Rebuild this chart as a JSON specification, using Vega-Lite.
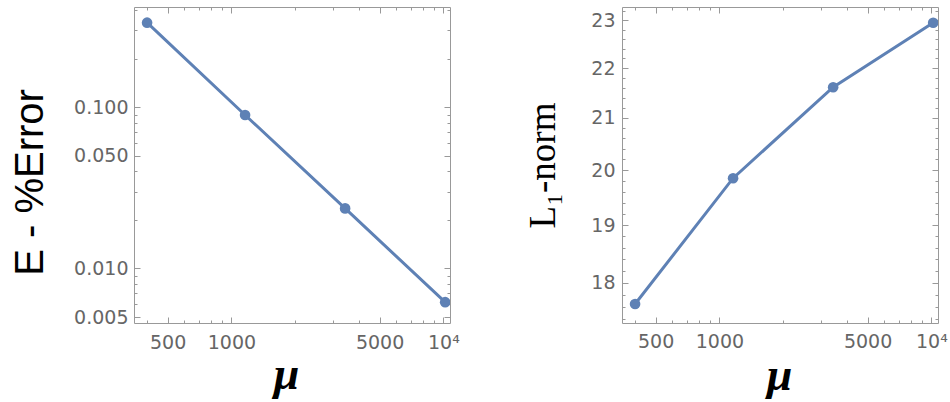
{
  "$schema": "https://vega.github.io/schema/vega-lite/v6.json",
  "background": "white",
  "padding": {"left": 9, "top": 0, "right": 0, "bottom": 0},
  "data": {"values": [
    {"mu": 400, "err": 0.335, "l1": 17.65},
    {"mu": 1160, "err": 0.0896, "l1": 19.85},
    {"mu": 3440, "err": 0.0236, "l1": 21.61},
    {"mu": 10200, "err": 0.00618, "l1": 22.95}
  ]},
  "spacing": 172,
  "bounds": "flush",
  "hconcat": [
    {
      "width": 316,
      "height": 316,
      "layer": [
        {
          "mark": {"type": "line", "color": "#5e81b5", "strokeWidth": 3, "clip": true},
          "encoding": {
            "x": {"field": "mu", "type": "quantitative",
              "scale": {"type": "log", "domain": [347, 10750], "nice": false, "zero": false},
              "axis": {"orient": "bottom",
                "values": [400,500,600,700,800,900,1000,2000,3000,4000,5000,6000,7000,8000,9000,10000],
                "labelExpr": "datum.value == 10000 ? '10⁴' : (indexof([500,1000,5000], datum.value) >= 0 ? format(datum.value, 'd') : '')",
                "tickSize": {"condition": {"test": "indexof([500,1000,5000,10000], datum.value) >= 0", "value": -6}, "value": -3},
                "labelPadding": 16,
                "title": "μ", "titleFont": "Liberation Serif", "titleFontSize": 46, "titleFontStyle": "italic", "titleFontWeight": "bold", "titleColor": "black",
                "titleBaseline": "alphabetic", "titleX": 152, "titleY": 65}},
            "y": {"field": "err", "type": "quantitative",
              "scale": {"type": "log", "domain": [0.00459, 0.419], "nice": false, "zero": false},
              "axis": {"orient": "left",
                "values": [0.005,0.006,0.007,0.008,0.009,0.01,0.02,0.03,0.04,0.05,0.06,0.07,0.08,0.09,0.1,0.2,0.3,0.4],
                "labelExpr": "indexof([0.005,0.01,0.05,0.1], datum.value) >= 0 ? format(datum.value, '.3f') : ''",
                "tickSize": {"condition": {"test": "indexof([0.005,0.01,0.05,0.1], datum.value) >= 0", "value": -6}, "value": -3},
                "labelPadding": 12,
                "title": "E - %Error", "titleFont": "Liberation Sans", "titleFontSize": 40, "titleFontWeight": "normal", "titleColor": "black",
                "titleBaseline": "alphabetic", "titleAngle": 270, "titleX": -92, "titleY": 175}}
          }
        },
        {
          "mark": {"type": "circle", "color": "#5e81b5", "size": 113, "opacity": 1, "clip": true},
          "encoding": {
            "x": {"field": "mu", "type": "quantitative",
              "scale": {"type": "log", "domain": [347, 10750], "nice": false, "zero": false},
              "axis": {"orient": "top", "labels": false, "title": null,
                "values": [400,500,600,700,800,900,1000,2000,3000,4000,5000,6000,7000,8000,9000,10000],
                "tickSize": {"condition": {"test": "indexof([500,1000,5000,10000], datum.value) >= 0", "value": -6}, "value": -3}}},
            "y": {"field": "err", "type": "quantitative",
              "scale": {"type": "log", "domain": [0.00459, 0.419], "nice": false, "zero": false},
              "axis": {"orient": "right", "labels": false, "title": null,
                "values": [0.005,0.006,0.007,0.008,0.009,0.01,0.02,0.03,0.04,0.05,0.06,0.07,0.08,0.09,0.1,0.2,0.3,0.4],
                "tickSize": {"condition": {"test": "indexof([0.005,0.01,0.05,0.1], datum.value) >= 0", "value": -6}, "value": -3}}}
          }
        }
      ],
      "resolve": {"axis": {"x": "independent", "y": "independent"}}
    },
    {
      "width": 316,
      "height": 316,
      "layer": [
        {
          "mark": {"type": "line", "color": "#5e81b5", "strokeWidth": 3, "clip": true},
          "encoding": {
            "x": {"field": "mu", "type": "quantitative",
              "scale": {"type": "log", "domain": [347, 10750], "nice": false, "zero": false},
              "axis": {"orient": "bottom",
                "values": [400,500,600,700,800,900,1000,2000,3000,4000,5000,6000,7000,8000,9000,10000],
                "labelExpr": "datum.value == 10000 ? '10⁴' : (indexof([500,1000,5000], datum.value) >= 0 ? format(datum.value, 'd') : '')",
                "tickSize": {"condition": {"test": "indexof([500,1000,5000,10000], datum.value) >= 0", "value": -6}, "value": -3},
                "labelPadding": 15,
                "title": "μ", "titleFont": "Liberation Serif", "titleFontSize": 46, "titleFontStyle": "italic", "titleFontWeight": "bold", "titleColor": "black",
                "titleBaseline": "alphabetic", "titleX": 157, "titleY": 66}},
            "y": {"field": "l1", "type": "quantitative",
              "scale": {"type": "log", "domain": [17.34, 23.29], "nice": false, "zero": false},
              "axis": {"orient": "left",
                "values": [17.4,17.6,17.8,18,18.2,18.4,18.6,18.8,19,19.2,19.4,19.6,19.8,20,20.2,20.4,20.6,20.8,21,21.2,21.4,21.6,21.8,22,22.2,22.4,22.6,22.8,23,23.2],
                "labelExpr": "datum.value % 1 == 0 ? format(datum.value, 'd') : ''",
                "tickSize": {"condition": {"test": "datum.value % 1 == 0", "value": -6}, "value": -3},
                "labelPadding": 13,
                "title": "L₁-norm", "titleFont": "Liberation Serif", "titleFontSize": 37, "titleFontWeight": "normal", "titleColor": "black",
                "titleBaseline": "alphabetic", "titleAngle": 270, "titleX": -68, "titleY": 158}}
          }
        },
        {
          "mark": {"type": "circle", "color": "#5e81b5", "size": 113, "opacity": 1, "clip": true},
          "encoding": {
            "x": {"field": "mu", "type": "quantitative",
              "scale": {"type": "log", "domain": [347, 10750], "nice": false, "zero": false},
              "axis": {"orient": "top", "labels": false, "title": null,
                "values": [400,500,600,700,800,900,1000,2000,3000,4000,5000,6000,7000,8000,9000,10000],
                "tickSize": {"condition": {"test": "indexof([500,1000,5000,10000], datum.value) >= 0", "value": -6}, "value": -3}}},
            "y": {"field": "l1", "type": "quantitative",
              "scale": {"type": "log", "domain": [17.34, 23.29], "nice": false, "zero": false},
              "axis": {"orient": "right", "labels": false, "title": null,
                "values": [17.4,17.6,17.8,18,18.2,18.4,18.6,18.8,19,19.2,19.4,19.6,19.8,20,20.2,20.4,20.6,20.8,21,21.2,21.4,21.6,21.8,22,22.2,22.4,22.6,22.8,23,23.2],
                "tickSize": {"condition": {"test": "datum.value % 1 == 0", "value": -6}, "value": -3}}}
          }
        }
      ],
      "resolve": {"axis": {"x": "independent", "y": "independent"}}
    }
  ],
  "config": {
    "view": {"stroke": "#999", "strokeWidth": 1},
    "axis": {"grid": false, "domain": false, "tickColor": "#999", "tickWidth": 1,
      "labelColor": "#666", "labelFont": "DejaVu Sans", "labelFontSize": 19,
      "labelOverlap": false, "labelFlush": false}
  }
}
